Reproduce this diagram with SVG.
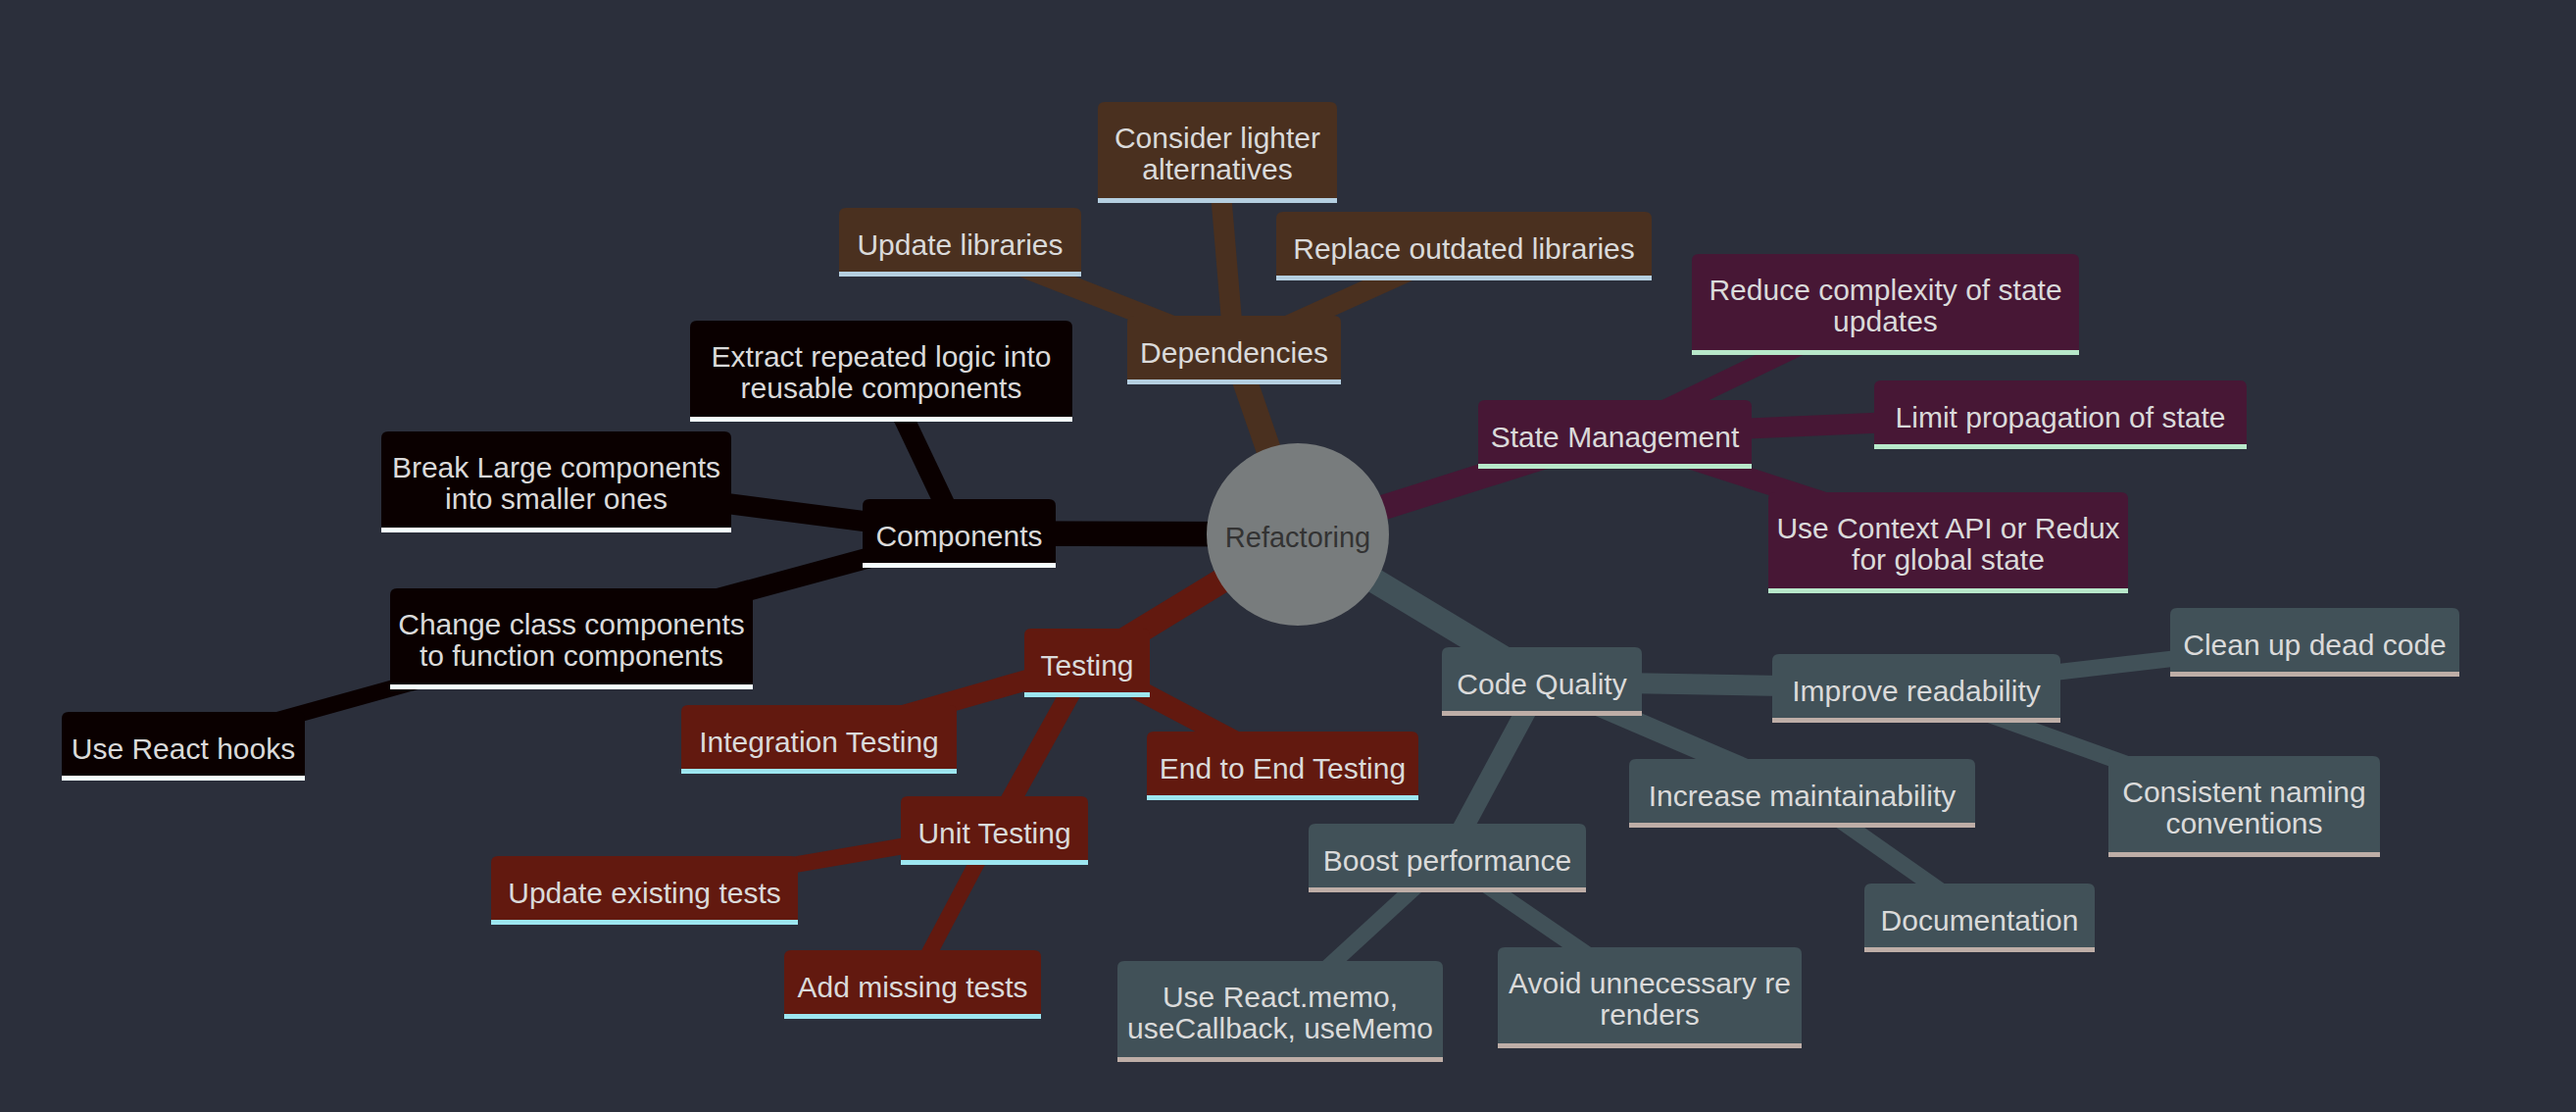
<svg xmlns="http://www.w3.org/2000/svg" width="2628" height="1134" viewBox="0 0 2628 1134">
<style>
.bg{fill:#2b2f3b}
.edges line{fill:none;stroke-linecap:butt}
.e0{stroke-width:25.5}
.e1{stroke-width:21}
.e2{stroke-width:16.5}
.c-comp{stroke:#0a0000}
.c-dep{stroke:#4a301f}
.c-state{stroke:#471735}
.c-code{stroke:#415158}
.c-test{stroke:#62190f}
.node text{font-family:"Liberation Sans",Arial,sans-serif;font-size:30px;fill:#dadada;text-anchor:middle}
.node line{stroke-width:5}
.comp path{fill:#0a0000}.comp line{stroke:#f5ffff}
.dep path{fill:#4a301f}.dep line{stroke:#b5cfe0}
.state path{fill:#471735}.state line{stroke:#b8e8ca}
.code path{fill:#415158}.code line{stroke:#beaea7}
.test path{fill:#62190f}.test line{stroke:#9de6f0}
.root circle{fill:#787c7d}
.root text{font-family:"Liberation Sans",Arial,sans-serif;font-size:29px;fill:#333333;text-anchor:middle}
</style>
<rect class="bg" x="0" y="0" width="2628" height="1134"/>
<g id="connectors" class="edges">
<line class="e0 c-dep" x1="1324" y1="545" x2="1259" y2="357"/>
<line class="e0 c-comp" x1="1324" y1="545" x2="978" y2="544"/>
<line class="e0 c-test" x1="1324" y1="545" x2="1109" y2="676"/>
<line class="e0 c-state" x1="1324" y1="545" x2="1647" y2="443"/>
<line class="e0 c-code" x1="1324" y1="545" x2="1573" y2="695"/>
<line class="e1 c-dep" x1="1259" y1="357" x2="979" y2="247"/>
<line class="e1 c-dep" x1="1259" y1="357" x2="1242" y2="155"/>
<line class="e1 c-dep" x1="1259" y1="357" x2="1493" y2="251"/>
<line class="e1 c-comp" x1="978" y1="544" x2="899" y2="378"/>
<line class="e1 c-comp" x1="978" y1="544" x2="567" y2="491"/>
<line class="e1 c-comp" x1="978" y1="544" x2="583" y2="651"/>
<line class="e2 c-comp" x1="583" y1="651" x2="187" y2="761"/>
<line class="e1 c-test" x1="1109" y1="676" x2="835" y2="754"/>
<line class="e1 c-test" x1="1109" y1="676" x2="1308" y2="781"/>
<line class="e1 c-test" x1="1109" y1="676" x2="1014" y2="847"/>
<line class="e2 c-test" x1="1014" y1="847" x2="657" y2="908"/>
<line class="e2 c-test" x1="1014" y1="847" x2="931" y2="1004"/>
<line class="e1 c-state" x1="1647" y1="443" x2="1923" y2="310"/>
<line class="e1 c-state" x1="1647" y1="443" x2="2102" y2="423"/>
<line class="e1 c-state" x1="1647" y1="443" x2="1987" y2="553"/>
<line class="e1 c-code" x1="1573" y1="695" x2="1955" y2="702"/>
<line class="e1 c-code" x1="1573" y1="695" x2="1838" y2="809"/>
<line class="e1 c-code" x1="1573" y1="695" x2="1476" y2="875"/>
<line class="e2 c-code" x1="1955" y1="702" x2="2361" y2="655"/>
<line class="e2 c-code" x1="1955" y1="702" x2="2289" y2="822"/>
<line class="e2 c-code" x1="1838" y1="809" x2="2019" y2="936"/>
<line class="e2 c-code" x1="1476" y1="875" x2="1306" y2="1031"/>
<line class="e2 c-code" x1="1476" y1="875" x2="1683" y2="1017"/>
</g>
<g id="root" class="root"><circle cx="1324" cy="545" r="93"/><text x="1324" y="558">Refactoring</text></g>

<g id="dependencies" class="node dep" transform="translate(1150,322)"><path d="M0,65V7Q0,0 7,0H211Q218,0 218,7V65Z"/><line x1="0" y1="67.5" x2="218" y2="67.5"/><text x="109" y="47.5">Dependencies</text></g>
<g id="update-libraries" class="node dep" transform="translate(856,212)"><path d="M0,65V7Q0,0 7,0H240Q247,0 247,7V65Z"/><line x1="0" y1="67.5" x2="247" y2="67.5"/><text x="123.5" y="47.5">Update libraries</text></g>
<g id="consider-lighter" class="node dep" transform="translate(1120,104)"><path d="M0,98V7Q0,0 7,0H237Q244,0 244,7V98Z"/><line x1="0" y1="100.5" x2="244" y2="100.5"/><text x="122" y="47">Consider lighter</text><text x="122" y="79">alternatives</text></g>
<g id="replace-outdated" class="node dep" transform="translate(1302,216)"><path d="M0,65V7Q0,0 7,0H376Q383,0 383,7V65Z"/><line x1="0" y1="67.5" x2="383" y2="67.5"/><text x="191.5" y="47.5">Replace outdated libraries</text></g>

<g id="components" class="node comp" transform="translate(880,509)"><path d="M0,65V7Q0,0 7,0H190Q197,0 197,7V65Z"/><line x1="0" y1="67.5" x2="197" y2="67.5"/><text x="98.5" y="47.5">Components</text></g>
<g id="extract" class="node comp" transform="translate(704,327)"><path d="M0,98V7Q0,0 7,0H383Q390,0 390,7V98Z"/><line x1="0" y1="100.5" x2="390" y2="100.5"/><text x="195" y="47">Extract repeated logic into</text><text x="195" y="79">reusable components</text></g>
<g id="break-large" class="node comp" transform="translate(389,440)"><path d="M0,98V7Q0,0 7,0H350Q357,0 357,7V98Z"/><line x1="0" y1="100.5" x2="357" y2="100.5"/><text x="178.5" y="47">Break Large components</text><text x="178.5" y="79">into smaller ones</text></g>
<g id="change-class" class="node comp" transform="translate(398,600)"><path d="M0,98V7Q0,0 7,0H363Q370,0 370,7V98Z"/><line x1="0" y1="100.5" x2="370" y2="100.5"/><text x="185" y="47">Change class components</text><text x="185" y="79">to function components</text></g>
<g id="react-hooks" class="node comp" transform="translate(63,726)"><path d="M0,65V7Q0,0 7,0H241Q248,0 248,7V65Z"/><line x1="0" y1="67.5" x2="248" y2="67.5"/><text x="124" y="47.5">Use React hooks</text></g>

<g id="testing" class="node test" transform="translate(1045,641)"><path d="M0,65V7Q0,0 7,0H121Q128,0 128,7V65Z"/><line x1="0" y1="67.5" x2="128" y2="67.5"/><text x="64" y="47.5">Testing</text></g>
<g id="integration-testing" class="node test" transform="translate(695,719)"><path d="M0,65V7Q0,0 7,0H274Q281,0 281,7V65Z"/><line x1="0" y1="67.5" x2="281" y2="67.5"/><text x="140.5" y="47.5">Integration Testing</text></g>
<g id="e2e-testing" class="node test" transform="translate(1170,746)"><path d="M0,65V7Q0,0 7,0H270Q277,0 277,7V65Z"/><line x1="0" y1="67.5" x2="277" y2="67.5"/><text x="138.5" y="47.5">End to End Testing</text></g>
<g id="unit-testing" class="node test" transform="translate(919,812)"><path d="M0,65V7Q0,0 7,0H184Q191,0 191,7V65Z"/><line x1="0" y1="67.5" x2="191" y2="67.5"/><text x="95.5" y="47.5">Unit Testing</text></g>
<g id="update-tests" class="node test" transform="translate(501,873)"><path d="M0,65V7Q0,0 7,0H306Q313,0 313,7V65Z"/><line x1="0" y1="67.5" x2="313" y2="67.5"/><text x="156.5" y="47.5">Update existing tests</text></g>
<g id="add-tests" class="node test" transform="translate(800,969)"><path d="M0,65V7Q0,0 7,0H255Q262,0 262,7V65Z"/><line x1="0" y1="67.5" x2="262" y2="67.5"/><text x="131" y="47.5">Add missing tests</text></g>

<g id="state-management" class="node state" transform="translate(1508,408)"><path d="M0,65V7Q0,0 7,0H272Q279,0 279,7V65Z"/><line x1="0" y1="67.5" x2="279" y2="67.5"/><text x="139.5" y="47.5">State Management</text></g>
<g id="reduce-complexity" class="node state" transform="translate(1726,259)"><path d="M0,98V7Q0,0 7,0H388Q395,0 395,7V98Z"/><line x1="0" y1="100.5" x2="395" y2="100.5"/><text x="197.5" y="47">Reduce complexity of state</text><text x="197.5" y="79">updates</text></g>
<g id="limit-propagation" class="node state" transform="translate(1912,388)"><path d="M0,65V7Q0,0 7,0H373Q380,0 380,7V65Z"/><line x1="0" y1="67.5" x2="380" y2="67.5"/><text x="190" y="47.5">Limit propagation of state</text></g>
<g id="context-api" class="node state" transform="translate(1804,502)"><path d="M0,98V7Q0,0 7,0H360Q367,0 367,7V98Z"/><line x1="0" y1="100.5" x2="367" y2="100.5"/><text x="183.5" y="47">Use Context API or Redux</text><text x="183.5" y="79">for global state</text></g>

<g id="code-quality" class="node code" transform="translate(1471,660)"><path d="M0,65V7Q0,0 7,0H197Q204,0 204,7V65Z"/><line x1="0" y1="67.5" x2="204" y2="67.5"/><text x="102" y="47.5">Code Quality</text></g>
<g id="improve-readability" class="node code" transform="translate(1808,667)"><path d="M0,65V7Q0,0 7,0H287Q294,0 294,7V65Z"/><line x1="0" y1="67.5" x2="294" y2="67.5"/><text x="147" y="47.5">Improve readability</text></g>
<g id="clean-up" class="node code" transform="translate(2214,620)"><path d="M0,65V7Q0,0 7,0H288Q295,0 295,7V65Z"/><line x1="0" y1="67.5" x2="295" y2="67.5"/><text x="147.5" y="47.5">Clean up dead code</text></g>
<g id="consistent-naming" class="node code" transform="translate(2151,771)"><path d="M0,98V7Q0,0 7,0H270Q277,0 277,7V98Z"/><line x1="0" y1="100.5" x2="277" y2="100.5"/><text x="138.5" y="47">Consistent naming</text><text x="138.5" y="79">conventions</text></g>
<g id="increase-maintainability" class="node code" transform="translate(1662,774)"><path d="M0,65V7Q0,0 7,0H346Q353,0 353,7V65Z"/><line x1="0" y1="67.5" x2="353" y2="67.5"/><text x="176.5" y="47.5">Increase maintainability</text></g>
<g id="documentation" class="node code" transform="translate(1902,901)"><path d="M0,65V7Q0,0 7,0H228Q235,0 235,7V65Z"/><line x1="0" y1="67.5" x2="235" y2="67.5"/><text x="117.5" y="47.5">Documentation</text></g>
<g id="boost-performance" class="node code" transform="translate(1335,840)"><path d="M0,65V7Q0,0 7,0H276Q283,0 283,7V65Z"/><line x1="0" y1="67.5" x2="283" y2="67.5"/><text x="141.5" y="47.5">Boost performance</text></g>
<g id="react-memo" class="node code" transform="translate(1140,980)"><path d="M0,98V7Q0,0 7,0H325Q332,0 332,7V98Z"/><line x1="0" y1="100.5" x2="332" y2="100.5"/><text x="166" y="47">Use React.memo,</text><text x="166" y="79">useCallback, useMemo</text></g>
<g id="avoid-rerenders" class="node code" transform="translate(1528,966)"><path d="M0,98V7Q0,0 7,0H303Q310,0 310,7V98Z"/><line x1="0" y1="100.5" x2="310" y2="100.5"/><text x="155" y="47">Avoid unnecessary re</text><text x="155" y="79">renders</text></g>
</svg>
